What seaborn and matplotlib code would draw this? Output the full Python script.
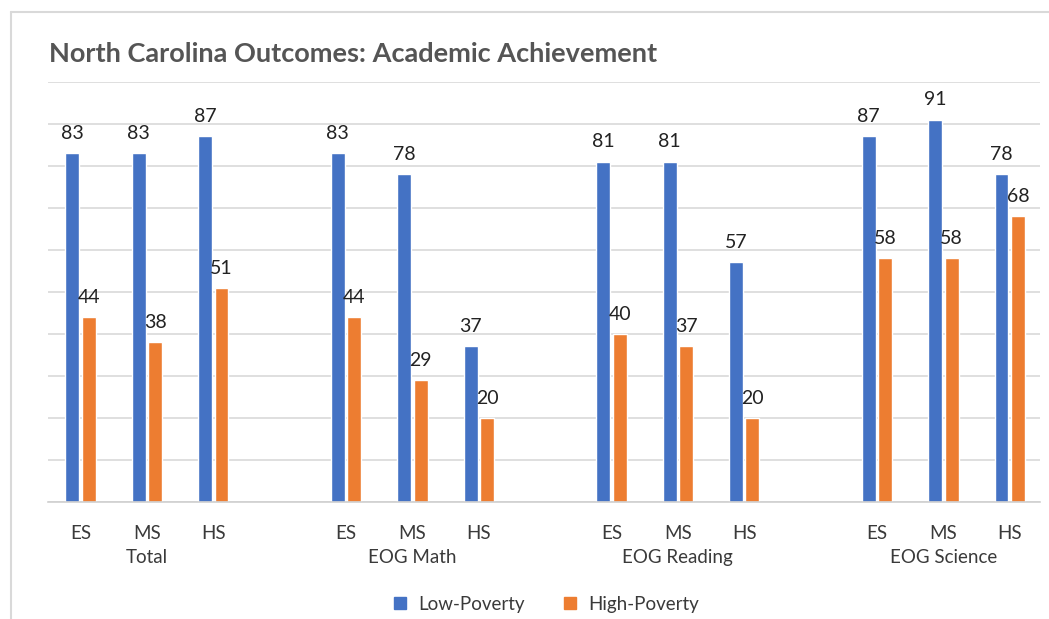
import numpy as np
import pandas as pd
import matplotlib.pyplot as plt
import seaborn as sns
from matplotlib.lines import Line2D

# Chart data
groups = ['Total', 'EOG Math', 'EOG Reading', 'EOG Science']
levels = ['ES', 'MS', 'HS']
low_poverty = [83, 83, 87, 83, 78, 37, 81, 81, 57, 87, 91, 78]
high_poverty = [44, 38, 51, 44, 29, 20, 40, 37, 20, 58, 58, 68]
series = ['Low-Poverty', 'High-Poverty']
colors = ['#4472C4', '#ED7D31']

# long-form frame, one slot per group/level, blank spacer slots between groups
rows = []
order = []
for gi, g in enumerate(groups):
    for li, lv in enumerate(levels):
        key = f'{g}|{lv}'
        order.append(key)
        k = gi * 3 + li
        rows.append((key, series[0], low_poverty[k]))
        rows.append((key, series[1], high_poverty[k]))
    if gi < len(groups) - 1:
        order.append(f'gap{gi}')
df = pd.DataFrame(rows, columns=['slot', 'series', 'value'])

sns.set_style('white')
plt.rcParams['font.family'] = ['Lato', 'DejaVu Sans']
text_col = '#3A3A3A'

fig = plt.figure(figsize=(10.49, 6.19), dpi=100)
ax = fig.add_axes([0.0458, 0.189, 0.9452, 0.679])

sns.barplot(data=df, x='slot', y='value', hue='series', order=order,
            hue_order=series, palette=colors, width=0.495, gap=0.15,
            saturation=1, legend=False, ax=ax)

for cont in ax.containers:
    ax.bar_label(cont, fmt='%d', padding=8, fontsize=14, color='#222222')

ax.set_ylim(0, 100)
ax.set_xlim(-0.49, len(order) - 0.55)
ax.set_yticks(np.arange(0, 101, 10))
ax.yaxis.grid(True, color='#D9D9D9', linewidth=1.2)
ax.set_axisbelow(True)
ax.tick_params(axis='y', left=False, labelleft=False)
for s in ['top', 'right', 'left']:
    ax.spines[s].set_visible(False)
ax.spines['bottom'].set_color('#D0D0D0')
ax.spines['bottom'].set_linewidth(1.2)

# level labels on the ticks, group labels beneath
xt = [i for i, o in enumerate(order) if not o.startswith('gap')]
ax.set_xticks(xt)
ax.set_xticklabels([o.split('|')[1] for o in order if not o.startswith('gap')],
                   fontsize=13.5, color=text_col)
ax.tick_params(axis='x', bottom=False, pad=13)
ax.set_xlabel('')
ax.set_ylabel('')
for gi, g in enumerate(groups):
    ax.text(gi * 4 + 1, -0.132, g, transform=ax.get_xaxis_transform(),
            ha='center', va='center', fontsize=13.5, color=text_col)

fig.text(0.047, 0.912, 'North Carolina Outcomes: Academic Achievement',
         fontsize=19.5, fontweight='bold', color='#555555', va='center')

handles = [Line2D([0], [0], marker='s', linestyle='', markersize=8.5,
                  markerfacecolor=c, markeredgecolor=c) for c in colors]
fig.legend(handles, series, loc='center', bbox_to_anchor=(0.515, 0.024),
           ncol=2, frameon=False, fontsize=13.5, handletextpad=0.0,
           columnspacing=1.4, labelcolor=text_col)

# outer chart frame (left and top edges visible in the crop)
fig.add_artist(Line2D([0.0105, 0.0105], [0.0, 0.981], transform=fig.transFigure,
                      color='#D9D9D9', linewidth=1.5))
fig.add_artist(Line2D([0.0105, 1.0], [0.981, 0.981], transform=fig.transFigure,
                      color='#D9D9D9', linewidth=1.5))

fig.savefig('out.png', dpi=100)
